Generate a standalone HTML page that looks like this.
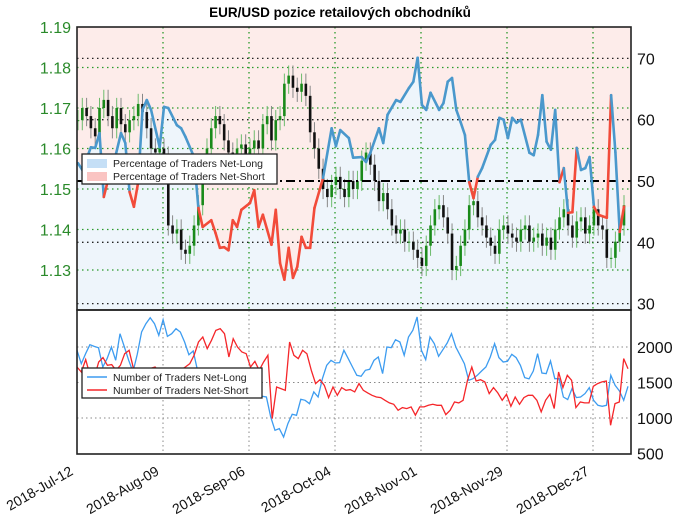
<!DOCTYPE html>
<html><head><meta charset="utf-8"><style>
html,body{margin:0;padding:0;background:#fff}
svg{display:block;font-family:"Liberation Sans","DejaVu Sans",sans-serif}
</style></head><body>
<svg id="chart" width="680" height="518" viewBox="0 0 680 518" xmlns="http://www.w3.org/2000/svg">
<text x="340" y="17" text-anchor="middle" font-size="13.5" font-weight="bold">EUR/USD pozice retailových obchodníků</text>
<g id="topPanel"></g><g id="botPanel"></g>
</svg>
<script>
const dateLabels=["2018-Jul-12","2018-Aug-09","2018-Sep-06","2018-Oct-04","2018-Nov-01","2018-Nov-29","2018-Dec-27"];
const dateTickX=[77,163,249,335,421,507,593];
const priceTicks=[1.13,1.14,1.15,1.16,1.17,1.18,1.19];
const pctTicks=[30,40,50,60,70];
const countTicks=[500,1000,1500,2000];
const closes=[1.167,1.170,1.168,1.165,1.163,1.170,1.172,1.168,1.165,1.170,
1.166,1.164,1.167,1.168,1.171,1.169,1.165,1.160,1.159,1.160,
1.158,1.141,1.139,1.140,1.135,1.134,1.136,1.141,1.146,1.155,
1.160,1.165,1.168,1.166,1.162,1.159,1.158,1.160,1.161,1.158,
1.160,1.162,1.160,1.166,1.168,1.162,1.167,1.168,1.176,1.178,
1.175,1.174,1.176,1.173,1.164,1.160,1.155,1.150,1.148,1.151,
1.153,1.150,1.148,1.152,1.150,1.152,1.157,1.159,1.156,1.152,
1.147,1.149,1.145,1.141,1.139,1.140,1.137,1.137,1.135,1.133,
1.131,1.136,1.141,1.145,1.146,1.143,1.139,1.130,1.131,1.136,
1.140,1.146,1.147,1.143,1.141,1.138,1.136,1.134,1.140,1.141,
1.139,1.138,1.137,1.140,1.141,1.137,1.138,1.139,1.136,1.138,
1.135,1.140,1.143,1.145,1.141,1.138,1.142,1.143,1.139,1.141,
1.145,1.141,1.140,1.133,1.133,1.137,1.141,1.146];
const pctIdx=[0,1,3,4,5,6,7,8,10,11,12,13,14,15,16,17,19,20,21,23,24,25,27,28,29,31,32,33,34,35,36,37,38,40,41,42,43,45,46,47,48,49,50,51,52,53,54,55,57,59,60,61,63,64,66,67,68,70,71,72,74,75,77,78,79,80,81,82,84,85,86,87,88,89,90,91,92,93,94,96,97,98,99,100,101,102,103,105,106,107,108,109,110,111,112,113,114,115,116,117,118,119,120,121,123,124,125,126,127];
const pctVal=[52.9,51.8,55.5,55.4,57.8,47.4,50.2,52,57.8,56.2,48.2,45.8,49.8,61.6,63.2,61.6,55.5,62.1,61.9,59.1,58.6,57.2,53.9,45.6,42.5,43.6,41.5,39.1,39.2,38.7,43.6,42.5,45.3,46.4,48.5,42.5,44.5,39.6,45.3,36.6,33.9,39.1,34.2,36.0,40.9,39.1,39.1,45.6,50.5,58.6,55.7,58.3,57.0,53.8,53.9,53.1,54.6,58.6,56.2,60.8,63.2,62.9,65.2,66.2,70.1,62.4,61.6,64.4,61.6,62.7,66.2,66.8,61.6,59.6,57.5,49.8,47.2,50.7,52.1,55.9,56.7,60.3,60.0,57.0,60.3,59.5,60.0,54.6,54.2,57.5,64.0,56.4,55.1,61.6,49.8,52.1,44.8,44.9,55.4,51.8,52.1,53.9,45.8,44.5,44.0,64.0,54.7,41.7,45.8];
const shortIdx=[6,12,13,28,29,31,32,33,34,35,36,37,38,40,41,42,43,45,46,47,48,49,50,51,52,53,54,55,91,92,112,114,115,120,121,123,126];
const longCounts=[1953,1765,1906,2033,2009,1990,1718,1836,2000,1812,2188,2000,1812,1650,1900,2211,2328,2413,2328,2164,2385,2150,2188,2258,2211,2070,1892,1944,1672,1600,1550,1500,1480,1450,1420,1400,1380,1360,1350,1330,1320,1437,1350,1306,1296,1015,827,851,733,921,1052,1038,1264,1250,1202,1367,1296,1554,1742,1812,1775,1780,1953,1836,1718,1601,1587,1672,1686,1812,1859,1625,2000,1990,2103,2070,1883,2141,2234,2422,1953,1822,2141,2047,1869,1962,2056,2188,2000,1883,1765,1531,1554,1601,1662,1719,1859,2047,1850,1789,1798,1897,1850,1742,1569,1550,1662,1906,1634,1625,1803,1554,1554,1296,1259,1414,1287,1296,1344,1428,1250,1179,1165,1179,1601,1461,1381,1250,1447];
const shortCounts=[1718,1648,1822,1601,1578,1789,1850,1742,1752,1672,1742,1906,1953,1700,1650,1600,1620,1700,1718,1650,1600,1620,1700,1650,1680,1720,1765,1883,2070,2141,1977,2094,2234,2258,2188,1859,2117,2000,1930,1906,1718,1798,1672,1789,1883,991,1437,1414,1390,2070,1883,1836,1953,1906,1672,1484,1540,1461,1287,1437,1320,1428,1390,1400,1367,1484,1390,1353,1320,1296,1287,1250,1212,1193,1109,1147,1133,1156,1039,1156,1156,1179,1193,1179,1179,1048,1109,1226,1212,1250,1531,1718,1521,1540,1508,1344,1428,1353,1250,1334,1165,1296,1193,1287,1320,1320,1250,1086,1250,1334,1133,1648,1428,1601,1531,1147,1226,1212,1212,1447,1484,1508,1521,897,1203,1226,1836,1695];

const NS="http://www.w3.org/2000/svg";
const L=77,R=631,T1=27,B1=310,T2=310,B2=454;
const xi=i=>78+i*(624-78)/127;
const yp=p=>27+(1.19-p)*4050;
const ypc=v=>181-(v-50)*6.13;
const yc=v=>347+(2000-v)*0.071;
function mk(tag,attrs,parent){const e=document.createElementNS(NS,tag);for(const k in attrs)e.setAttribute(k,attrs[k]);parent.appendChild(e);return e;}
const topG=document.getElementById('topPanel'),botG=document.getElementById('botPanel');

let bgPink=mk('rect',{x:L,y:T1,width:R-L,height:B1-T1,fill:'#fdecea'},topG);


let fd='M'+xi(pctIdx[0])+','+B1;
pctIdx.forEach((d,k)=>{fd+=' L'+xi(d).toFixed(1)+','+ypc(pctVal[k]).toFixed(1);});
fd+=' L'+R+','+ypc(pctVal[pctVal.length-1]).toFixed(1)+' L'+R+','+B1+' L'+L+','+B1+' L'+L+','+ypc(pctVal[0]).toFixed(1)+' Z';
let fill=mk('path',{d:fd,fill:'#eef5fb'},topG);



priceTicks.forEach(p=>{if(p<1.19){mk('line',{x1:L,x2:R,y1:yp(p),y2:yp(p),stroke:'#2a9a2a','stroke-width':1.3,'stroke-dasharray':'1.5,3.5'},topG);}
 const t=mk('text',{x:71,y:yp(p)+6,'text-anchor':'end','font-size':16,fill:'#2a8a2a'},topG);t.textContent=p.toFixed(2);
 
 });
pctTicks.forEach(v=>{if(v!==50)mk('line',{x1:L,x2:R,y1:ypc(v),y2:ypc(v),stroke:'#222','stroke-width':1.3,'stroke-dasharray':'1.5,3.5'},topG);
 const t=mk('text',{x:637,y:ypc(v)+6,'font-size':16,fill:'#111'},topG);t.textContent=v;
 
 });
dateTickX.forEach((x,k)=>{if(k>0){mk('line',{x1:x,x2:x,y1:T1,y2:B1,stroke:'#2a9a2a','stroke-width':1.3,'stroke-dasharray':'1.5,3.5'},topG);
 mk('line',{x1:x,x2:x,y1:T2,y2:B2,stroke:'#888','stroke-width':1,'stroke-dasharray':'1.5,3'},botG);}
 const lx=x-3,ly=474;
 const t=mk('text',{x:lx,y:ly,'text-anchor':'end','font-size':14,fill:'#111',transform:'rotate(-30 '+lx+' '+ly+')'},botG);t.textContent=dateLabels[k];
 
 });

closes.forEach((c,i)=>{const o=i>0?closes[i-1]:c;const up=c>=o;const x=xi(i);
 const hi=Math.max(o,c)+0.0025,lo=Math.min(o,c)-0.0025;
 const w=mk('line',{x1:x,x2:x,y1:yp(hi),y2:yp(lo),stroke:up?'#6dbb6d':'#888','stroke-width':1},topG);
 
 
 const b=mk('rect',{x:x-1.3,y:Math.min(yp(o),yp(c)),width:2.6,height:Math.max(1,Math.abs(yp(o)-yp(c))),fill:up?'#1a8a1a':'#111'},topG);
 
 });

let fifty=mk('line',{x1:L,x2:R,y1:ypc(50),y2:ypc(50),stroke:'#000','stroke-width':2,'stroke-dasharray':'9,4,2,4'},topG);



for(let k=0;k<pctIdx.length-1;k++){const s=shortIdx.includes(pctIdx[k]);
 const seg=mk('line',{x1:xi(pctIdx[k]),y1:ypc(pctVal[k]),x2:xi(pctIdx[k+1]),y2:ypc(pctVal[k+1]),stroke:s?'#f24b3a':'#4a98cc','stroke-width':2.6,'stroke-linecap':'round'},topG);
 
 }

countTicks.forEach(v=>{if(v>500)mk('line',{x1:L,x2:R,y1:yc(v),y2:yc(v),stroke:'#888','stroke-width':1,'stroke-dasharray':'1.5,3'},botG);
 const t=mk('text',{x:637,y:yc(v)+6,'font-size':16,fill:'#111'},botG);t.textContent=v;
 
 });
function series(arr,color,name){const n=arr.length;let d='';arr.forEach((v,i)=>{const x=L+i*(628-L)/(n-1);d+=(i?' L':'M')+x.toFixed(1)+','+yc(v).toFixed(1);});
 const p=mk('path',{d:d,fill:'none',stroke:color,'stroke-width':1.3},botG);
 
 }
series(longCounts,'#3d9cf0','net-long-count-line');
series(shortCounts,'#f5262a','net-short-count-line');

let f1=mk('rect',{x:L,y:T1,width:R-L,height:B1-T1,fill:'none',stroke:'#222','stroke-width':1.6},topG);


let f2=mk('rect',{x:L,y:T2,width:R-L,height:B2-T2,fill:'none',stroke:'#222','stroke-width':1.6},botG);



function legend(parent,x,y,w,items,name,patch){const g=mk('g',{},parent);
 
 
 mk('rect',{x:x,y:y,width:w,height:30,fill:'#fff',stroke:'#222','stroke-width':1.3},g);
 items.forEach((it,k)=>{const yy=y+9+k*13;
  if(patch)mk('rect',{x:x+5,y:yy-4,width:20,height:9,fill:it[1],opacity:0.5},g);
  else mk('line',{x1:x+5,x2:x+25,y1:yy,y2:yy,stroke:it[1],'stroke-width':1.5},g);
  const t=mk('text',{x:x+31,y:yy+4,'font-size':10.5,fill:'#222'},g);t.textContent=it[0];
  
  });}
legend(topG,82,154,195,[["Percentage of Traders Net-Long","#8cc0ee"],["Percentage of Traders Net-Short","#f58a85"]],'percent-legend',true);
legend(botG,82,368,180,[["Number of Traders Net-Long","#3d9cf0"],["Number of Traders Net-Short","#f5262a"]],'count-legend',false);
</script>
</body></html>
